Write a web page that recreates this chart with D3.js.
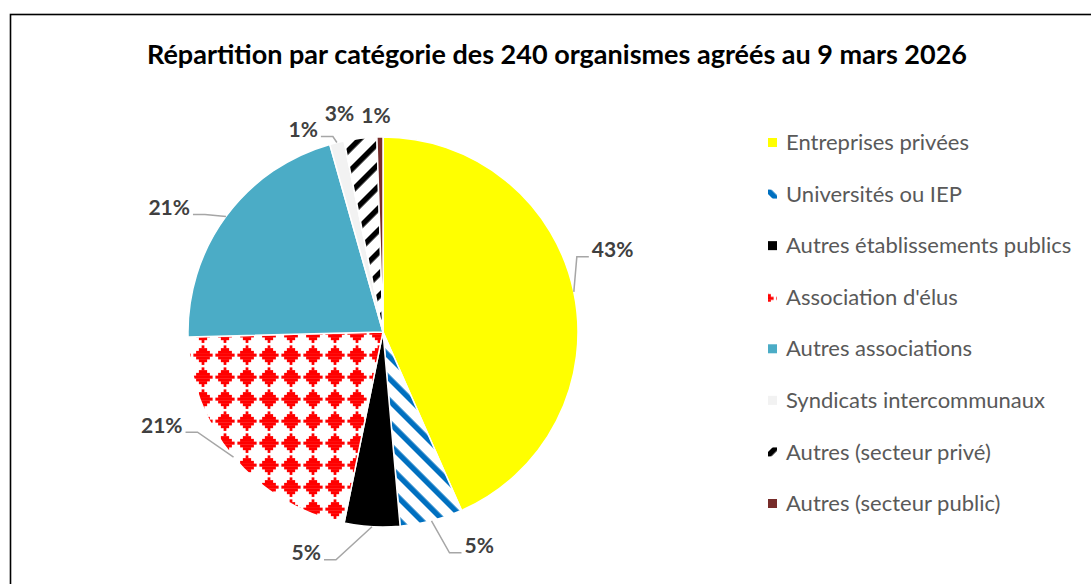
<!DOCTYPE html>
<html>
<head>
<meta charset="utf-8">
<script src="https://cdn.jsdelivr.net/npm/d3@7"></script>
<style>
  body { margin: 0; background: #fff; }
  svg { display: block; }
</style>
</head>
<body>
<div id="chart"></div>
<script>
// Data (share of the 240 organisms, in %)
const categories = [
    'Entreprises privées',
    'Universités ou IEP',
    'Autres établissements publics',
    "Association d'élus",
    'Autres associations',
    'Syndicats intercommunaux',
    'Autres (secteur privé)',
    'Autres (secteur public)'
];
const shares = [43.4, 5.2, 4.6, 21.4, 21.0, 1.2, 2.7, 0.5];
const chartTitle = 'Répartition par catégorie des 240 organismes agréés au 9 mars 2026';

const width = 1091, height = 584;
const cx = 383, cy = 332, radius = 195;

// fill for each slice: a colour or a pattern id
const fills = ['#FFFF00', 'url(#stripeBlue)', '#000000', 'url(#diamondRed)',
               '#4BACC6', '#F2F2F2', 'url(#stripeBlack)', '#772C2A'];

// where each percent label sits, relative to the point on the rim
// [dx, dy, anchor, leader?]
const labelLayout = [
    [18, -42, 'start', true],
    [33, 25, 'start', true],
    [-51, 26, 'end', true],
    [-51, -32, 'end', true],
    [-36, -9, 'end', true],
    [-19, -13, 'end', true],
    [-21, -25, 'middle', false],
    [-4, -21, 'middle', false]
];

const svg = d3.select('#chart')
    .append('svg')
    .attr('width', width)
    .attr('height', height);

// Patterns
const defs = svg.append('defs');

const tile = 22;
function stripes(id, colour, angle) {
    const p = defs.append('pattern')
        .attr('id', id)
        .attr('patternUnits', 'userSpaceOnUse')
        .attr('width', tile / Math.SQRT2)
        .attr('height', tile)
        .attr('patternTransform', `rotate(${angle})`);
    p.append('rect').attr('width', tile / Math.SQRT2).attr('height', tile).attr('fill', '#fff');
    p.append('rect').attr('width', 5.5).attr('height', tile).attr('fill', colour);
}
stripes('stripeBlue', '#0070C0', -45);
stripes('stripeBlack', '#000000', 45);

// stepped diamond, like the office "solid diamond" fill
const dia = defs.append('pattern')
    .attr('id', 'diamondRed')
    .attr('patternUnits', 'userSpaceOnUse')
    .attr('x', -191).attr('y', 12)
    .attr('width', tile).attr('height', tile);
dia.append('rect').attr('width', tile).attr('height', tile).attr('fill', '#fff');
const px = tile / 8;
const rows = [[3, 1], [2, 3], [1, 5], [0, 7], [1, 5], [2, 3], [3, 1]];
rows.forEach(([start, len], i) => {
    dia.append('rect')
        .attr('x', start * px + px / 2)
        .attr('y', i * px + px / 2)
        .attr('width', len * px)
        .attr('height', px + 0.3)
        .attr('fill', '#FF0000');
});

// Frame
svg.append('rect')
    .attr('x', 10.5).attr('y', 14.5)
    .attr('width', width).attr('height', height)
    .attr('fill', 'none')
    .attr('stroke', '#000')
    .attr('stroke-width', 1.6);

// Title
svg.append('text')
    .attr('x', 557).attr('y', 64)
    .attr('text-anchor', 'middle')
    .style('font-family', 'Lato, "Open Sans", sans-serif')
    .style('font-weight', 'bold')
    .style('font-size', '27px')
    .attr('fill', '#000')
    .text(chartTitle);

// Pie
const pie = d3.pie().sort(null).value(d => d);
const arcs = pie(shares);
const arc = d3.arc().innerRadius(0).outerRadius(radius);
const rim = d3.arc().innerRadius(radius).outerRadius(radius);

const g = svg.append('g').attr('transform', `translate(${cx},${cy})`);

g.selectAll('path.slice')
    .data(arcs)
    .enter()
    .append('path')
    .attr('class', 'slice')
    .attr('d', arc)
    .attr('fill', (d, i) => fills[i])
    .attr('stroke', '#fff')
    .attr('stroke-width', 1.5);

// Labels and leader lines
const fmt = d => Math.round(d) + '%';
arcs.forEach((d, i) => {
    const [x0, y0] = rim.centroid(d);
    const [dx, dy, anchor, leader] = labelLayout[i];
    const tx = x0 + dx, ty = y0 + dy;
    if (leader) {
        const dir = anchor === 'start' ? -1 : 1;
        const ly = ty + 7;
        const hx = tx + dir * 3;
        const ex = hx + dir * 12;
        g.append('path')
            .attr('d', `M${x0},${y0}L${ex},${ly}L${hx},${ly}`)
            .attr('fill', 'none')
            .attr('stroke', '#A6A6A6')
            .attr('stroke-width', 1.5);
    }
    g.append('text')
        .attr('x', tx).attr('y', ty)
        .attr('dy', '0.35em')
        .attr('text-anchor', anchor)
        .style('font-family', 'Lato, "Open Sans", sans-serif')
        .style('font-weight', 'bold')
        .style('font-size', '21px')
        .attr('fill', '#404040')
        .text(fmt(d.data));
});

// Legend
const legendY = d3.scalePoint().domain(categories).range([142.5, 503.5]);
const legend = svg.append('g')
    .selectAll('g')
    .data(categories)
    .enter()
    .append('g')
    .attr('transform', d => `translate(768,${legendY(d)})`);

legend.append('rect')
    .attr('x', 0).attr('y', -4.5)
    .attr('width', 9).attr('height', 9)
    .attr('fill', (d, i) => fills[i]);

legend.append('text')
    .attr('x', 18).attr('y', 0)
    .attr('dy', '0.35em')
    .style('font-family', 'Lato, "Open Sans", sans-serif')
    .style('font-size', '22px')
    .attr('fill', '#595959')
    .text(d => d);
</script>
</body>
</html>
